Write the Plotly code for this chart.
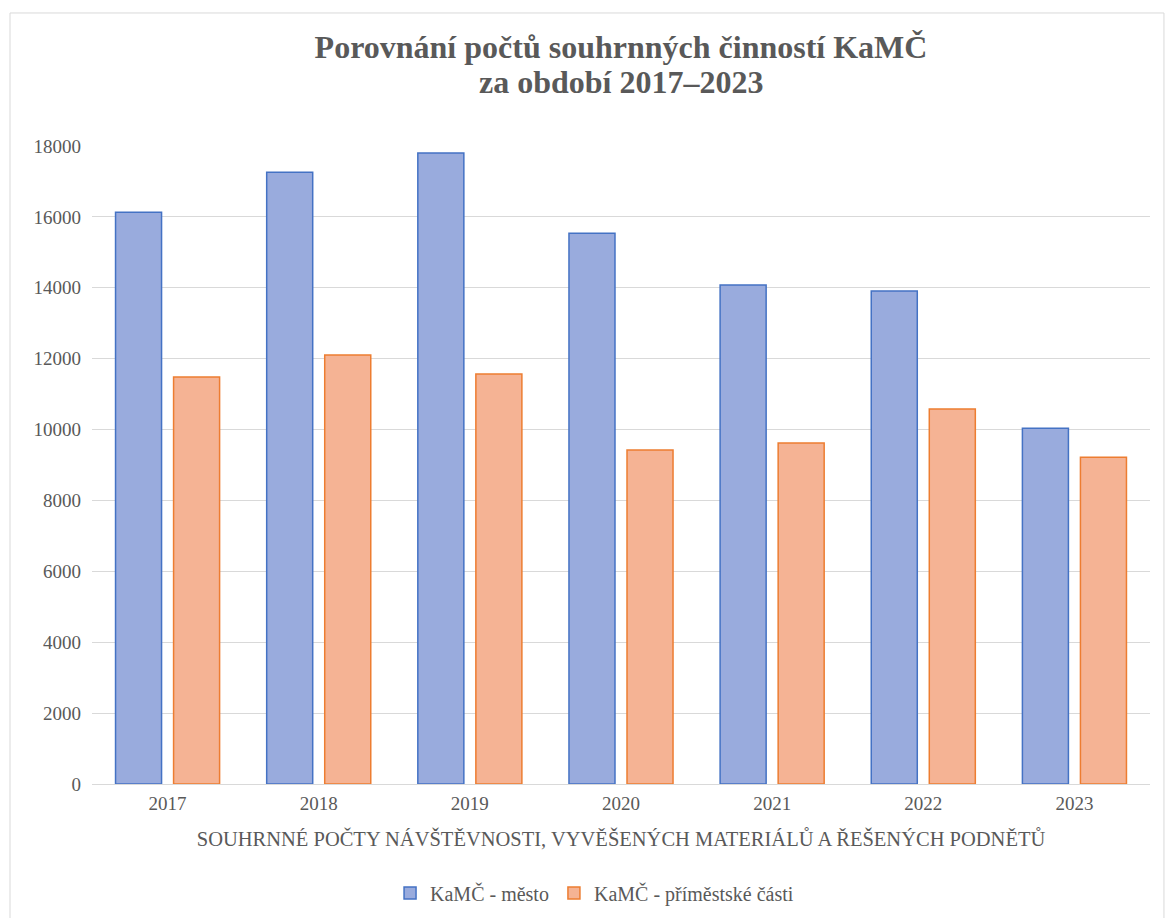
import plotly.graph_objects as go

years = ["2017", "2018", "2019", "2020", "2021", "2022", "2023"]
mesto = [16130, 17260, 17800, 15540, 14080, 13910, 10040]
primestske = [11480, 12100, 11570, 9420, 9620, 10580, 9220]

name_mesto = "KaMČ - město"
name_prim = "KaMČ - příměstské části"
title_line1 = "<b>Porovnání počtů souhrnných činností KaMČ</b>"
title_line2 = "<b>za období 2017–2023</b>"
xaxis_title = "SOUHRNNÉ POČTY NÁVŠTĚVNOSTI, VYVĚŠENÝCH MATERIÁLŮ A ŘEŠENÝCH PODNĚTŮ"

FONT = "Liberation Serif, Times New Roman, serif"
GRAY = "#595959"

fig = go.Figure()
fig.add_trace(go.Bar(
    x=years, y=mesto, name=name_mesto,
    marker=dict(color="#99ABDD", line=dict(color="#4472C4", width=1.5)),
))
fig.add_trace(go.Bar(
    x=years, y=primestske, name=name_prim,
    marker=dict(color="#F5B394", line=dict(color="#ED7D31", width=1.5)),
))

fig.update_layout(
    width=1165, height=918,
    margin=dict(l=92, r=15, t=146, b=134, autoexpand=False),
    paper_bgcolor="white", plot_bgcolor="white",
    font=dict(family=FONT, color=GRAY, size=18),
    title=dict(text=title_line1, x=0.5, xanchor="center", xref="paper",
               y=1 - 47 / 918, yanchor="middle", yref="container",
               font=dict(family=FONT, size=32, color=GRAY)),
    annotations=[dict(text=title_line2, x=0.5, xanchor="center", xref="paper",
                      y=1.1003, yanchor="middle", yref="paper", showarrow=False,
                      font=dict(family=FONT, size=32, color=GRAY))],
    barmode="group", bargap=0.232, bargroupgap=0.207,
    legend=dict(orientation="h", x=0.475, xanchor="center", y=-0.171, yanchor="middle",
                font=dict(size=20, color=GRAY), itemwidth=30, traceorder="normal"),
    xaxis=dict(showgrid=False, showline=True, linecolor="#D9D9D9", linewidth=1,
               ticks="", tickfont=dict(size=19, color=GRAY), ticklabelstandoff=2,
               automargin=False,
               title=dict(text=xaxis_title, font=dict(size=20.5, color=GRAY), standoff=18)),
    yaxis=dict(range=[0, 18000], dtick=2000, tickformat="d",
               showgrid=True, gridcolor="#D9D9D9", gridwidth=1,
               zeroline=False, showline=False, ticks="", automargin=False,
               tickfont=dict(size=19, color=GRAY), ticklabelstandoff=10),
    shapes=[dict(type="rect", xref="paper", yref="paper",
                 x0=-0.0775, x1=1.0132, y0=-0.3, y1=1.2085,
                 line=dict(color="#D9D9D9", width=1), fillcolor="rgba(0,0,0,0)", layer="below")],
)

fig.write_html("out.html", config={"displayModeBar": False},
               post_script="document.body.style.margin='0';")
